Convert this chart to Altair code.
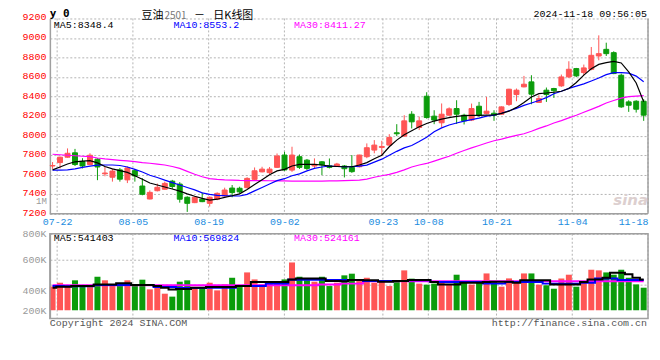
import json
import altair as alt
import pandas as pd

# ---------------- data ----------------
dates = ["07-19", "07-22", "07-23", "07-24", "07-25", "07-26", "07-29", "07-30", "07-31",
         "08-01", "08-02", "08-05", "08-06", "08-07", "08-08", "08-09", "08-12", "08-13", "08-14", "08-15", "08-16",
         "08-19", "08-20", "08-21", "08-22", "08-23", "08-26", "08-27", "08-28", "08-29", "08-30",
         "09-02", "09-03", "09-04", "09-05", "09-06", "09-09", "09-10", "09-11", "09-12", "09-13",
         "09-18", "09-19", "09-20", "09-23", "09-24", "09-25", "09-26", "09-27", "09-30",
         "10-08", "10-09", "10-10", "10-11", "10-14", "10-15", "10-16", "10-17", "10-18",
         "10-21", "10-22", "10-23", "10-24", "10-25", "10-28", "10-29", "10-30", "10-31",
         "11-01", "11-04", "11-05", "11-06", "11-07", "11-08", "11-11", "11-12", "11-13", "11-14", "11-15", "11-18"]

opens = [7690, 7725, 7780, 7825, 7735, 7705, 7760, 7610, 7575,
         7650, 7548, 7642, 7485, 7352, 7437, 7452, 7535, 7505, 7370, 7315, 7350,
         7308, 7350, 7383, 7464, 7462, 7468, 7553, 7630, 7622, 7676,
         7802, 7648, 7785, 7750, 7690, 7733, 7692, 7689, 7690, 7676,
         7682, 7785, 7853, 7880, 7904, 8030, 7996, 8220, 8084,
         8404, 8200, 8132, 8210, 8278, 8210, 8160, 8302, 8228,
         8230, 8220, 8320, 8421, 8500, 8551, 8340, 8466, 8483,
         8510, 8602, 8687, 8646, 8680, 8816, 8884, 8850, 8619, 8346, 8353, 8353]

highs = [7730, 7785, 7870, 7865, 7770, 7820, 7770, 7680, 7660,
         7670, 7685, 7660, 7565, 7440, 7510, 7530, 7548, 7525, 7380, 7380, 7418,
         7378, 7420, 7468, 7495, 7478, 7575, 7675, 7682, 7680, 7818,
         7835, 7887, 7808, 7762, 7768, 7740, 7767, 7722, 7700, 7802,
         7805, 7921, 7955, 7948, 8016, 8118, 8210, 8251, 8195,
         8445, 8261, 8330, 8290, 8363, 8225, 8329, 8346, 8397,
         8261, 8300, 8480, 8483, 8612, 8619, 8414, 8493, 8490,
         8626, 8762, 8694, 8728, 8908, 9027, 8952, 8864, 8636, 8363, 8363, 8374]

lows = [7660, 7665, 7775, 7690, 7665, 7700, 7545, 7585, 7530,
        7530, 7515, 7530, 7390, 7348, 7430, 7450, 7455, 7315, 7220, 7310, 7320,
        7275, 7340, 7380, 7370, 7410, 7460, 7540, 7625, 7608, 7670,
        7640, 7630, 7660, 7648, 7660, 7597, 7665, 7680, 7573, 7620,
        7675, 7770, 7820, 7791, 7900, 7996, 7990, 8074, 8058,
        8175, 8118, 8085, 8205, 8120, 8115, 8150, 8190, 8220,
        8152, 8215, 8305, 8353, 8495, 8322, 8335, 8346, 8387,
        8500, 8590, 8600, 8620, 8670, 8772, 8816, 8630, 8285, 8244, 8237, 8152]

closes = [7695, 7780, 7820, 7705, 7690, 7800, 7680, 7618, 7638,
          7555, 7670, 7588, 7400, 7420, 7472, 7512, 7480, 7350, 7308, 7370, 7325,
          7370, 7410, 7444, 7418, 7425, 7563, 7641, 7658, 7658, 7792,
          7650, 7802, 7676, 7665, 7706, 7702, 7676, 7710, 7662, 7632,
          7802, 7877, 7904, 7890, 7982, 8020, 8152, 8142, 8152,
          8186, 8160, 8220, 8275, 8220, 8152, 8278, 8210, 8251,
          8210, 8295, 8476, 8466, 8527, 8425, 8380, 8421, 8460,
          8602, 8680, 8612, 8694, 8823, 8840, 8840, 8636, 8295, 8312, 8271, 8210]

ma5 = [7650, 7680, 7710, 7733, 7740, 7744, 7722, 7685, 7660,
       7642, 7625, 7590, 7555, 7516, 7495, 7475, 7455, 7433, 7405, 7380, 7358,
       7340, 7350, 7369, 7385, 7405, 7450, 7500, 7550, 7600, 7640,
       7655, 7690, 7706, 7706, 7706, 7700, 7689, 7685, 7682, 7682,
       7700, 7725, 7765, 7800, 7887, 7955, 8010, 8050, 8091,
       8125, 8150, 8170, 8185, 8198, 8205, 8208, 8208, 8210,
       8212, 8228, 8251, 8290, 8340, 8397, 8431, 8437, 8445,
       8455, 8483, 8545, 8620, 8685, 8730, 8748, 8760, 8745, 8653, 8540, 8348]

ma10 = [7648, 7648, 7650, 7660, 7675, 7688, 7699, 7700, 7700,
        7695, 7680, 7655, 7628, 7595, 7572, 7545, 7520, 7495, 7470, 7445, 7415,
        7400, 7390, 7386, 7384, 7383, 7400, 7435, 7470, 7505, 7540,
        7560, 7590, 7610, 7640, 7665, 7680, 7690, 7685, 7682, 7682,
        7688, 7699, 7730, 7760, 7800, 7840, 7875, 7900, 7940,
        7985, 8040, 8080, 8110, 8130, 8150, 8165, 8180, 8200,
        8210, 8230, 8255, 8280, 8310, 8335, 8360, 8390, 8430,
        8455, 8485, 8508, 8530, 8560, 8590, 8625, 8645, 8645, 8640, 8610, 8553]

ma30 = [7810, 7805, 7800, 7795, 7790, 7785, 7772, 7762, 7755,
        7748, 7742, 7735, 7725, 7718, 7710, 7700, 7685, 7665, 7635, 7605, 7580,
        7560, 7553, 7548, 7545, 7542, 7541, 7540, 7540, 7539, 7538,
        7537, 7536, 7536, 7536, 7536, 7536, 7537, 7538, 7540, 7542,
        7545, 7555, 7575, 7590, 7605, 7625, 7650, 7680, 7700,
        7716, 7740, 7765, 7790, 7820, 7848, 7875, 7900, 7925,
        7948, 7965, 7985, 8003, 8020, 8045, 8075, 8100, 8130,
        8155, 8182, 8210, 8240, 8270, 8300, 8335, 8360, 8385, 8400, 8405, 8411]

# volumes in thousands of lots
volume_k = [386, 416, 390, 435, 398, 382, 463, 435, 403,
            398, 435, 398, 440, 364, 398, 330, 307, 424, 435, 382, 382,
            416, 356, 403, 455, 382, 497, 442, 403, 416, 409,
            442, 575, 463, 435, 424, 463, 390, 416, 474, 487,
            429, 455, 416, 429, 390, 437, 513, 448, 409,
            401, 409, 429, 398, 479, 416, 401, 429, 489,
            429, 385, 450, 424, 489, 489, 401, 396, 369,
            450, 479, 385, 429, 518, 513, 497, 479, 518, 455, 403, 377]

vol_ma5 = [377, 385, 385, 390, 390, 390, 403, 403, 403,
           411, 411, 398, 398, 398, 390, 377, 362, 367, 367, 377, 377,
           382, 382, 382, 382, 390, 390, 422, 422, 422, 422,
           422, 442, 450, 450, 450, 450, 429, 429, 427, 437,
           437, 435, 435, 424, 424, 429, 429, 437, 437,
           437, 422, 403, 403, 403, 416, 416, 416, 422,
           424, 424, 424, 416, 435, 435, 435, 435, 403,
           403, 403, 403, 422, 442, 442, 455, 495, 495, 482, 455, 442]

vol_ma10 = [390, 390, 388, 388, 388, 388, 398, 398, 398,
            398, 398, 398, 398, 398, 382, 382, 382, 375, 375, 375, 375,
            377, 377, 377, 377, 390, 390, 390, 390, 409, 409,
            409, 440, 440, 440, 440, 440, 437, 437, 437, 437,
            437, 429, 429, 429, 429, 429, 429, 435, 435,
            435, 422, 422, 422, 422, 422, 422, 422, 409,
            409, 409, 422, 422, 422, 422, 422, 409, 409,
            409, 409, 409, 416, 416, 450, 450, 450, 437, 437, 437, 437]

vol_ma30 = [396, 396, 396, 396, 396, 396, 396, 396, 396,
            396, 396, 396, 396, 396, 396, 396, 396, 396, 396, 396, 396,
            396, 396, 396, 396, 396, 396, 396, 396, 396, 396,
            396, 396, 396, 396, 396, 403, 403, 403, 409, 409,
            409, 427, 427, 427, 427, 427, 427, 427, 427,
            427, 427, 427, 427, 427, 427, 427, 427, 427,
            427, 427, 427, 427, 427, 427, 427, 427, 427,
            427, 427, 427, 427, 427, 427, 427, 427, 427, 427, 427, 427]

tick_dates = ["07-22", "08-05", "08-19", "09-02", "09-23", "10-08", "10-21", "11-04", "11-18"]
price_ticks = [7200, 7400, 7600, 7800, 8000, 8200, 8400, 8600, 8800, 9000, 9200]
volume_ticks_k = [200, 400, 600, 800]

title_name = "豆油"
title_code = "2501"
title_dash = "－"
title_kind = "日K线图"
corner_mark = "y 0"
stamp = "2024-11-18 09:56:05"
price_legend = ["MA5:8348.4", "MA10:8553.2", "MA30:8411.27"]
volume_legend = ["MA5:541403", "MA10:569824", "MA30:524161"]
overflow_label = "1M"
copyright_text = "Copyright 2024 SINA.COM"
site_text = "http://finance.sina.com.cn"
watermark = "sina"

# ---------------- styling ----------------
MONO = "Liberation Mono"
CJK = "Noto Sans CJK SC"
RED = "#ff5555"
GREEN = "#0b9c0b"
GRID = "#b4b4b4"
BORDER = "#a0a0a0"
BLUE_TXT = "#1a8ce0"
MA_COLORS = ["#000000", "#0000ff", "#ff00ff"]

df = pd.DataFrame({
    "idx": list(range(len(dates))), "date": dates,
    "open": opens, "high": highs, "low": lows, "close": closes,
    "ma5": ma5, "ma10": ma10, "ma30": ma30,
    "vol": volume_k, "vma5": vol_ma5, "vma10": vol_ma10, "vma30": vol_ma30,
})
tick_df = pd.DataFrame({"idx": [dates.index(d) for d in tick_dates]})
one = pd.DataFrame({"k": [0]})

SX = alt.Scale(domain=[-0.36, 79.58], nice=False, zero=False)
GX = alt.Scale(domain=[0.04, 79.0], nice=False, zero=False)
PY = alt.Scale(domain=[7200, 9200], range=[196, 0], nice=False, zero=False)
VY = alt.Scale(domain=[135, 800], range=[301, 216], nice=False, zero=False)

up = alt.condition("datum.close >= datum.open", alt.value(RED), alt.value(GREEN))

price_axis = alt.Axis(orient="left", values=price_ticks, format="d", grid=True, gridDash=[2, 2],
                      gridColor=GRID, domainColor=BORDER, domainWidth=1.5, ticks=False,
                      labelColor="#ff0000", labelFont=MONO, labelFontSize=10,
                      labelPadding=4, labelOffset=-1.5, title=None)
vol_axis = alt.Axis(orient="left", values=volume_ticks_k, labelExpr="datum.value + 'K'",
                    grid=True, gridDash=[2, 2], gridColor=GRID,
                    gridOpacity={"condition": {"test": "datum.value == 200", "value": 0}, "value": 1},
                    domainColor=BORDER, domainWidth=1.5, ticks=False,
                    labelColor="#999999", labelFont=MONO, labelFontSize=10, labelPadding=4,
                    labelOffset={"condition": {"test": "datum.value == 400", "value": 6}, "value": 0},
                    title=None)
date_axis = alt.Axis(orient="bottom", offset=-105, values=[dates.index(d) for d in tick_dates],
                     labelExpr=json.dumps(dates) + "[datum.value]", grid=False, ticks=False,
                     domain=False, labelColor=BLUE_TXT, labelFont=MONO, labelFontSize=10,
                     labelPadding=3, labelFlush=True, labelOverlap=False, title=None)

base = alt.Chart(df)
xs = alt.X("idx:Q", scale=SX, axis=None)

# ---- price panel ----
wicks = base.mark_rule(strokeWidth=1).encode(
    x=xs, y=alt.Y("low:Q", scale=PY, axis=price_axis), y2="high:Q", color=up)
bodies = base.transform_calculate(x1="datum.idx - 0.33", x2="datum.idx + 0.33").mark_rect(
    strokeWidth=1).encode(
    x=alt.X("x1:Q", scale=SX, axis=None), x2="x2:Q",
    y=alt.Y("open:Q", scale=PY, axis=price_axis), y2="close:Q", color=up, stroke=up)
ma_lines = [
    base.mark_line(color=c, strokeWidth=1.2).encode(
        x=xs, y=alt.Y(f"{f}:Q", scale=PY, axis=price_axis))
    for f, c in zip(["ma30", "ma10", "ma5"], [MA_COLORS[2], MA_COLORS[1], MA_COLORS[0]])
]
price_bottom = alt.Chart(one).mark_rule(color=BORDER, strokeWidth=1.5).encode(
    x=alt.XDatum(-0.36, scale=SX, axis=None), x2=alt.X2Datum(79.58),
    y=alt.YDatum(7200, scale=PY, axis=price_axis))
price_right = alt.Chart(one).mark_rule(color=BORDER, strokeWidth=1.5).encode(
    x=alt.XDatum(79.58, scale=SX, axis=None),
    y=alt.YDatum(9200, scale=PY, axis=price_axis), y2=alt.Y2Datum(7200))
price_group = alt.layer(wicks, bodies, *ma_lines, price_bottom, price_right)

# ---- volume panel ----
vbars = base.transform_calculate(x1="datum.idx - 0.4", x2="datum.idx + 0.4").mark_rect().encode(
    x=alt.X("x1:Q", scale=SX, axis=None), x2="x2:Q",
    y=alt.Y("vol:Q", scale=VY, axis=vol_axis), y2=alt.Y2Datum(200), color=up)
vlines = [
    base.mark_line(color=c, strokeWidth=2, interpolate="step").encode(
        x=xs, y=alt.Y(f"{f}:Q", scale=VY, axis=vol_axis))
    for f, c in zip(["vma30", "vma10", "vma5"], [MA_COLORS[2], MA_COLORS[1], MA_COLORS[0]])
]
vol_frame = alt.Chart(one).mark_rect(fillOpacity=0, stroke=BORDER, strokeWidth=1.5).encode(
    x=alt.XDatum(-0.36, scale=SX, axis=None), x2=alt.X2Datum(79.58),
    y=alt.YDatum(800, scale=VY, axis=vol_axis), y2=alt.Y2Datum(135))
vol_group = alt.layer(vbars, *vlines, vol_frame)

# ---- vertical date grid (own spacing, as in the original) ----
grid_price = alt.Chart(tick_df).mark_rule(color=GRID, strokeDash=[2, 2], strokeWidth=1).encode(
    x=alt.X("idx:Q", scale=GX, axis=date_axis),
    y=alt.YDatum(9200, scale=PY, axis=None), y2=alt.Y2Datum(7200))
grid_vol = alt.Chart(tick_df).mark_rule(color=GRID, strokeDash=[2, 2], strokeWidth=1).encode(
    x=alt.X("idx:Q", scale=GX, axis=None),
    y=alt.YDatum(800, scale=VY, axis=None), y2=alt.Y2Datum(135))


def note(text, x, y, color="#000000", size=10, font=MONO, align="left",
         weight="normal", style="normal"):
    return alt.Chart(one).mark_text(
        x=x, y=y, align=align, baseline="middle", color=color, fontSize=size,
        font=font, fontWeight=weight, fontStyle=style).encode(text=alt.value(text))


notes = [
    note(corner_mark, 0, -4.5, size=11, font="DejaVu Sans Mono", weight="bold"),
    note(title_name, 92, -2.5, size=11, font=CJK),
    note(title_code, 115, -2.5, color="#777777", size=10, font=CJK),
    note(title_dash, 150, -2.5, size=11, font=CJK, align="center"),
    note(title_kind, 164, -2.5, size=11, font=CJK),
    note(stamp, 599, -4.5, align="right", size=10),
    note(price_legend[0], 4, 7, color=MA_COLORS[0]),
    note(price_legend[1], 124, 7, color=MA_COLORS[1]),
    note(price_legend[2], 245, 7, color=MA_COLORS[2]),
    note(volume_legend[0], 4, 220.5, color=MA_COLORS[0]),
    note(volume_legend[1], 124, 220.5, color=MA_COLORS[1]),
    note(volume_legend[2], 245, 220.5, color=MA_COLORS[2]),
    note(overflow_label, -3, 183, color="#999999", size=9, align="right"),
    note(watermark, 600, 182, color="#dccfcf", size=15, font="DejaVu Sans",
         weight="bold", style="italic", align="right"),
    note(copyright_text, 0, 305.5, color="#555555"),
    note(site_text, 599, 305.5, color="#555555", align="right"),
]

chart = alt.layer(grid_price, grid_vol, price_group, vol_group, *notes).resolve_scale(
    x="independent", y="independent"
).properties(
    width=600, height=301,
    padding={"left": 42, "top": 10, "right": 4, "bottom": 14},
    autosize=alt.AutoSizeParams(type="none"),
    background="white",
).configure_view(stroke=None)

chart.save("out.html", embed_options={"renderer": "svg", "actions": False})
